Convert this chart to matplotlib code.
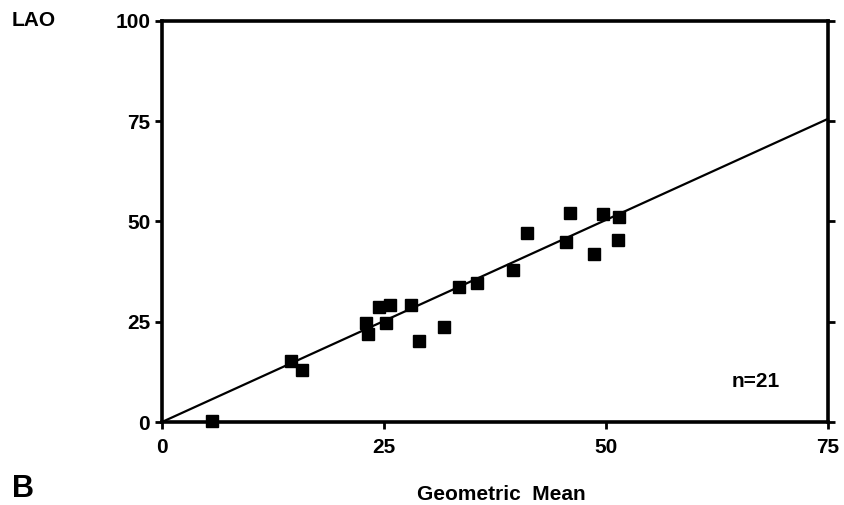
import matplotlib
matplotlib.use("Agg")
import matplotlib.pyplot as plt

geo_mean = [5.6, 14.5, 15.8, 23.0, 23.2, 24.4, 25.2, 25.7, 28.0, 28.9, 31.8,
            33.4, 35.5, 39.5, 41.1, 45.5, 46.0, 48.6, 49.7, 51.5, 51.4]
lao = [0.3, 15.2, 13.0, 24.8, 22.0, 28.7, 24.8, 29.2, 29.1, 20.3, 23.8,
       33.6, 34.7, 37.8, 47.1, 45.0, 52.1, 41.9, 51.9, 51.0, 45.4]
fit_x = [0, 75]
fit_y = [0.0, 75.6]
xticks = [0, 25, 50, 75]
yticks = [0, 25, 50, 75, 100]

plt.rcParams['font.family'] = ["Liberation Sans", "DejaVu Sans"]
plt.rcParams['font.weight'] = 'bold'

fig = plt.figure(figsize=(8.44, 5.05), dpi=100)
ax = fig.add_axes([162/844, 83/505, (828-162)/844, (422-21)/505])

ax.plot(fit_x, fit_y, color='black', lw=1.6, zorder=2, clip_on=False)
ax.plot(geo_mean, lao, 's', color='black', ms=8, zorder=3, clip_on=False)

ax.set_xlim(0, 75)
ax.set_ylim(0, 100)
ax.set_xticks(xticks)
ax.set_yticks(yticks)
ax.set_xticklabels([str(v) for v in xticks], fontsize=15, fontweight='bold')
ax.set_yticklabels([str(v) for v in yticks], fontsize=15, fontweight='bold')
for s in ax.spines.values():
    s.set_linewidth(2.6)
ax.tick_params(axis='both', direction='out', length=5, width=2)
ax.tick_params(axis='y', right=True, pad=3.5)
ax.tick_params(axis='x', top=False, pad=6.5)

ax.text(66.9, 10.2, "n=21", fontsize=15, fontweight='bold', ha='center', va='center')
fig.text(12/844, 1 - 20.5/505, "LAO", fontsize=15, fontweight='bold', ha='left', va='center')
fig.text(12/844, 1 - 489/505, "B", fontsize=22, fontweight='bold', ha='left', va='center')
fig.text(501/844, 1 - 495/505, "Geometric  Mean", fontsize=15, fontweight='bold',
         ha='center', va='center')

fig.savefig("out.png", dpi=100)
